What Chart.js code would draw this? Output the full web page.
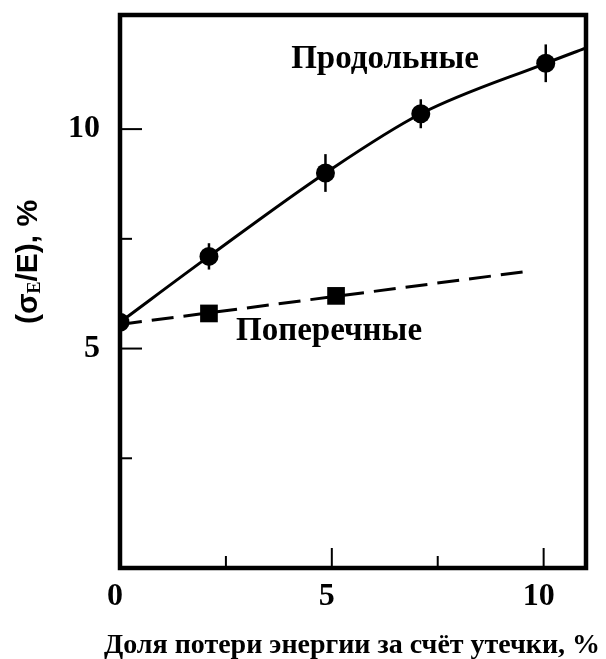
<!DOCTYPE html>
<html>
<head>
<meta charset="utf-8">
<script src="https://cdn.jsdelivr.net/npm/chart.js@4.4.1/dist/chart.umd.min.js"></script>
<style>
  html, body { margin: 0; padding: 0; background: #fff; }
  #wrap { width: 606px; height: 659px; position: relative; }
</style>
</head>
<body>
<div id="wrap"><canvas id="chart"></canvas></div>
<script>
// Longitudinal leakage: measured resolution points and their error bars
const longX = [0, 2.1, 4.85, 7.1, 10.05];
const longY = [5.6, 7.1, 9.0, 10.35, 11.5];
const longErr = [0, 0.3, 0.43, 0.33, 0.43];
// Smooth trend drawn through the longitudinal points up to the frame edge
const longCurveX = [0, 2.1, 4.85, 7.1, 10.05, 11];
const longCurveY = [5.6, 7.1, 9.0, 10.35, 11.5, 11.85];

// Transverse leakage: measured points and the straight dashed trend
const transX = [2.1, 5.1];
const transY = [5.8, 6.2];
const transLineX = [0, 9.55];
const transLineY = [5.55, 6.75];

// Axis ticks
const xTicks = [0, 2.5, 5, 7.5, 10];
const xLabelled = [0, 5, 10];
const yTicks = [2.5, 5, 7.5, 10];
const yLabelled = [5, 10];

const xTitle = 'Доля потери энергии за счёт утечки, %';

const serifBold = '"Liberation Serif", "Times New Roman", serif';
const sansBold = '"Liberation Sans", Arial, sans-serif';

const pts = (xs, ys) => xs.map((x, i) => ({ x, y: ys[i] }));

// Frame, inward tick marks, error bars and text annotations
const decor = {
  id: 'decor',
  beforeDatasetsDraw(chart) {
    const { ctx, chartArea: a, scales: { x, y } } = chart;
    ctx.save();
    ctx.strokeStyle = '#000';
    ctx.lineWidth = 2;
    xTicks.forEach(v => {
      const px = x.getPixelForValue(v);
      const len = xLabelled.includes(v) ? 20 : 12;
      ctx.beginPath();
      ctx.moveTo(px, a.bottom);
      ctx.lineTo(px, a.bottom - len);
      ctx.stroke();
    });
    yTicks.forEach(v => {
      const py = y.getPixelForValue(v);
      const len = yLabelled.includes(v) ? 22 : 12;
      ctx.beginPath();
      ctx.moveTo(a.left, py);
      ctx.lineTo(a.left + len, py);
      ctx.stroke();
    });
    // vertical error bars on the longitudinal points
    ctx.lineWidth = 2.5;
    longX.forEach((v, i) => {
      if (!longErr[i]) return;
      const px = x.getPixelForValue(v);
      ctx.beginPath();
      ctx.moveTo(px, y.getPixelForValue(longY[i] - longErr[i]));
      ctx.lineTo(px, y.getPixelForValue(longY[i] + longErr[i]));
      ctx.stroke();
    });
    ctx.restore();
  },
  afterDraw(chart) {
    const { ctx, chartArea: a } = chart;
    ctx.save();
    ctx.strokeStyle = '#000';
    ctx.lineWidth = 4.5;
    ctx.strokeRect(a.left, a.top, a.right - a.left, a.bottom - a.top);

    // curve names
    ctx.fillStyle = '#000';
    ctx.font = 'bold 33px ' + serifBold;
    ctx.textAlign = 'center';
    ctx.textBaseline = 'middle';
    ctx.fillText('Продольные', 385, 59);
    ctx.fillText('Поперечные', 329, 331);

    // horizontal axis title
    ctx.font = 'bold 28px ' + serifBold;
    ctx.textBaseline = 'alphabetic';
    ctx.fillText(xTitle, 352, 653);

    // vertical axis title with subscript
    ctx.translate(29, 262);
    ctx.rotate(-Math.PI / 2);
    const big = 'bold 30px ' + sansBold;
    const small = 'bold 18px ' + serifBold;
    const parts = [
      { t: '(σ', f: big, dy: 0 },
      { t: 'E', f: small, dy: 6 },
      { t: '/E), %', f: big, dy: 0 }
    ];
    let total = 0;
    parts.forEach(p => { ctx.font = p.f; p.w = ctx.measureText(p.t).width; total += p.w; });
    let cx = -total / 2;
    ctx.textAlign = 'left';
    ctx.textBaseline = 'middle';
    parts.forEach(p => {
      ctx.font = p.f;
      ctx.fillText(p.t, cx, p.dy);
      cx += p.w;
    });
    ctx.restore();
  }
};

new Chart(document.getElementById('chart'), {
  type: 'scatter',
  data: {
    datasets: [
      {
        type: 'line',
        data: pts(longCurveX, longCurveY),
        borderColor: '#000',
        borderWidth: 3,
        pointRadius: 0,
        cubicInterpolationMode: 'monotone',
        fill: false
      },
      {
        type: 'line',
        data: pts(transLineX, transLineY),
        borderColor: '#000',
        borderWidth: 3,
        borderDash: [22, 10],
        pointRadius: 0,
        fill: false
      },
      {
        data: pts(longX, longY),
        pointStyle: 'circle',
        pointRadius: 9.5,
        backgroundColor: '#000',
        borderColor: '#000',
        borderWidth: 0
      },
      {
        data: pts(transX, transY),
        pointStyle: 'rect',
        pointRadius: 12.5,
        backgroundColor: '#000',
        borderColor: '#000',
        borderWidth: 0
      }
    ]
  },
  options: {
    responsive: true,
    maintainAspectRatio: false,
    animation: false,
    layout: { padding: { left: 0, right: 20, top: 15, bottom: 0 } },
    plugins: { legend: { display: false }, tooltip: { enabled: false } },
    scales: {
      x: {
        type: 'linear',
        min: 0,
        max: 11,
        afterFit(s) { s.height = 91; s.paddingLeft = 0; s.paddingRight = 0; },
        afterBuildTicks(s) { s.ticks = xTicks.map(v => ({ value: v })); },
        grid: { display: false, drawTicks: false },
        border: { display: false },
        ticks: {
          padding: 10,
          labelOffset: -5,
          color: '#000',
          font: { family: serifBold, size: 32, weight: 'bold' },
          maxRotation: 0,
          autoSkip: false,
          callback: v => xLabelled.includes(v) ? String(v) : ''
        }
      },
      y: {
        type: 'linear',
        min: 0,
        max: 12.6,
        afterFit(s) { s.width = 120; s.paddingTop = 0; s.paddingBottom = 0; },
        afterBuildTicks(s) { s.ticks = yTicks.map(v => ({ value: v })); },
        grid: { display: false, drawTicks: false },
        border: { display: false },
        ticks: {
          padding: 20,
          color: '#000',
          font: { family: serifBold, size: 32, weight: 'bold' },
          autoSkip: false,
          callback: v => yLabelled.includes(v) ? String(v) : ''
        }
      }
    }
  },
  plugins: [decor]
});
</script>
</body>
</html>
